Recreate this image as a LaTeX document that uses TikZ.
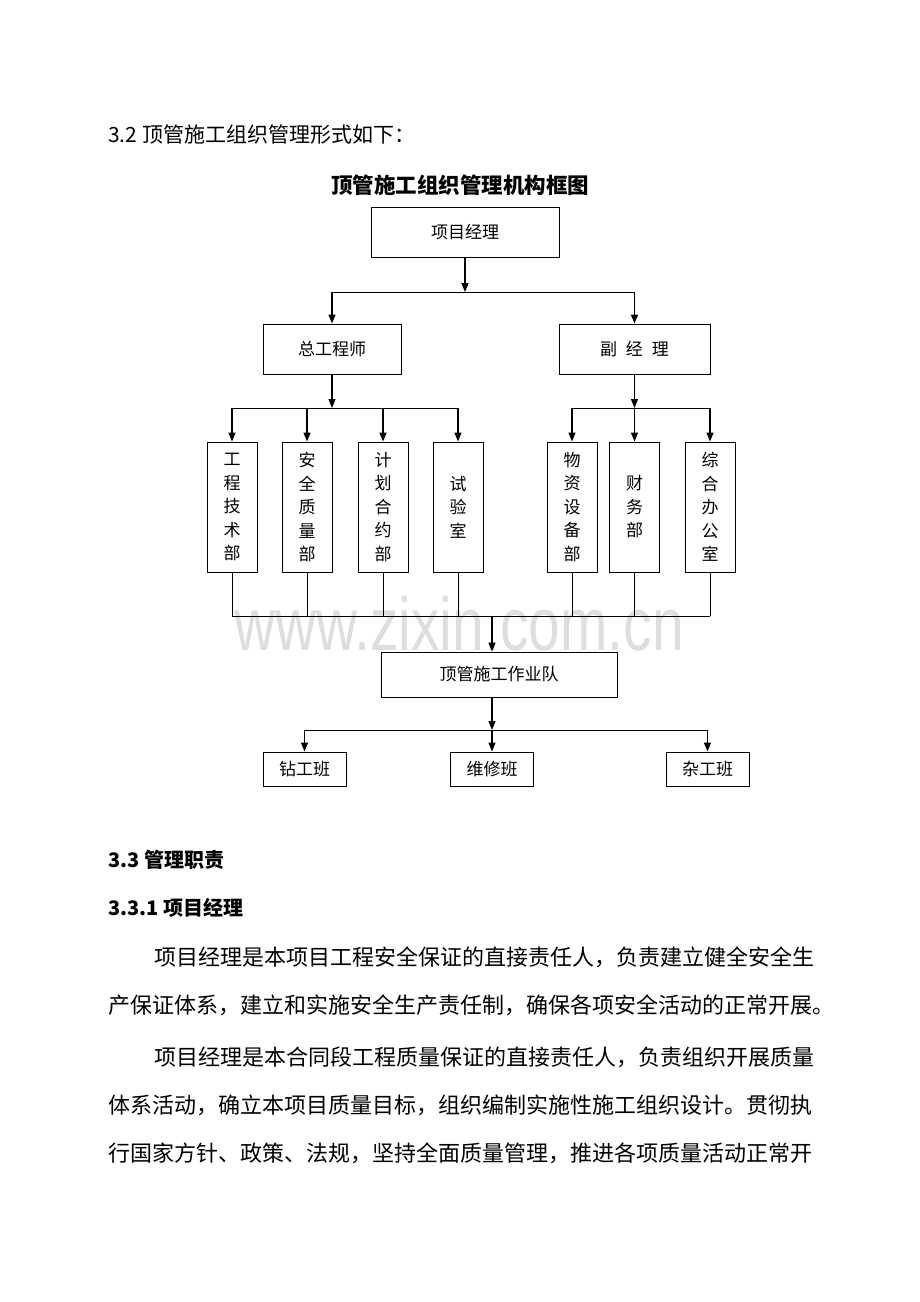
\documentclass[tikz,border=0pt]{standalone}
\usepackage{fontspec}
\setmainfont{Noto Sans CJK SC}
\newfontfamily\wmfont{Liberation Sans}
\usetikzlibrary{arrows.meta,positioning}

\tikzset{
	box/.style={draw, line width=1pt, inner sep=0pt, font=\fontsize{17}{20}\selectfont},
	colbox/.style={box, minimum width=50pt, minimum height=130pt, align=center, font=\fontsize{17}{23.5}\selectfont},
	arr/.style={line width=1.3pt, -{Triangle[length=9pt,width=7pt]}},
	ln/.style={line width=0.9pt},
	bodyline/.style={anchor=west, inner sep=0pt, font=\fontsize{22}{22}\selectfont},
	headline/.style={anchor=west, inner sep=0pt, font=\bfseries\fontsize{20}{20}\selectfont},
}

\begin{document}
\begin{tikzpicture}[x=1pt,y=-1pt]
			\useasboundingbox (0,0) rectangle (920,1302);
			%Watermark
			\node [text=black!13, anchor=base, xscale=0.76, font=\wmfont\fontsize{75}{75}\selectfont] (wm) at (459,650) {www.zixin.com.cn};
			%Heading and title
			\node [bodyline, font=\fontsize{21}{21}\selectfont] (sec32) at (108,135) {3.2 顶管施工组织管理形式如下：};
			\node [inner sep=0pt, font=\bfseries\fontsize{21.5}{21.5}\selectfont] (title) at (460,185) {顶管施工组织管理机构框图};
			%First and second level
			\node [box, minimum width=188pt, minimum height=50pt] (pm) at (465,232) {项目经理};
			\node [box, minimum width=138pt, minimum height=50pt] (ce) at (332,349) {总工程师};
			\node [box, minimum width=151pt, minimum height=50pt] (dm) at (634.5,349) {副\hspace{9pt}经\hspace{9pt}理};
			%Departments
			\node [colbox] (d1) at (232,507) {工\\程\\技\\术\\部};
			\node [colbox] (d2) at (307,507) {安\\全\\质\\量\\部};
			\node [colbox] (d3) at (383,507) {计\\划\\合\\约\\部};
			\node [colbox] (d4) at (458,507) {试\\验\\室};
			\node [colbox] (d5) at (572,507) {物\\资\\设\\备\\部};
			\node [colbox] (d6) at (634.5,507) {财\\务\\部};
			\node [colbox] (d7) at (710,507) {综\\合\\办\\公\\室};
			%Team and groups
			\node [box, minimum width=236pt, minimum height=45pt] (team) at (499,674.5) {顶管施工作业队};
			\node [box, minimum width=83pt, minimum height=34pt] (g1) at (304.5,769) {钻工班};
			\node [box, minimum width=83pt, minimum height=34pt] (g2) at (492,769) {维修班};
			\node [box, minimum width=83pt, minimum height=34pt] (g3) at (707.5,769) {杂工班};
			%Bus lines
			\coordinate (busA) at (465,292);
			\coordinate (busB) at (332,408);
			\coordinate (busC) at (634.5,408);
			\coordinate (busD) at (492,616);
			\coordinate (busE) at (492,730);
			%Project manager to second level
			\draw [arr] (pm) -- (busA);
			\draw [ln] (ce |- busA) -- (dm |- busA);
			\draw [arr] (ce |- busA) -- (ce);
			\draw [arr] (dm |- busA) -- (dm);
			%Second level to departments
			\draw [arr] (ce) -- (busB);
			\draw [ln] (d1 |- busB) -- (d4 |- busB);
			\foreach \d in {d1,d2,d3,d4} {
				\draw [arr] (\d |- busB) -- (\d);
			}
			\draw [arr] (dm) -- (busC);
			\draw [ln] (d5 |- busC) -- (d7 |- busC);
			\foreach \d in {d5,d6,d7} {
				\draw [arr] (\d |- busC) -- (\d);
			}
			%Departments to team
			\foreach \d in {d1,d2,d3,d4,d5,d6,d7} {
				\draw [ln] (\d) -- (\d |- busD);
			}
			\draw [ln] (d1 |- busD) -- (d7 |- busD);
			\draw [arr] (busD) -- (busD |- team.north);
			%Team to groups
			\draw [arr] (busD |- team.south) -- (busE);
			\draw [ln] (g1 |- busE) -- (g3 |- busE);
			\foreach \g in {g1,g2,g3} {
				\draw [arr] (\g |- busE) -- (\g);
			}
			%Text below
			\node [headline] (sec33) at (108,860) {3.3 管理职责};
			\node [headline] (sec331) at (108,908) {3.3.1 项目经理};
			\node [bodyline] (p1a) at (154,957) {项目经理是本项目工程安全保证的直接责任人，负责建立健全安全生};
			\node [bodyline] (p1b) at (108,1005) {产保证体系，建立和实施安全生产责任制，确保各项安全活动的正常开展。};
			\node [bodyline] (p2a) at (154,1057) {项目经理是本合同段工程质量保证的直接责任人，负责组织开展质量};
			\node [bodyline] (p2b) at (108,1105) {体系活动，确立本项目质量目标，组织编制实施性施工组织设计。贯彻执};
			\node [bodyline] (p2c) at (108,1153) {行国家方针、政策、法规，坚持全面质量管理，推进各项质量活动正常开};
\end{tikzpicture}
\end{document}
